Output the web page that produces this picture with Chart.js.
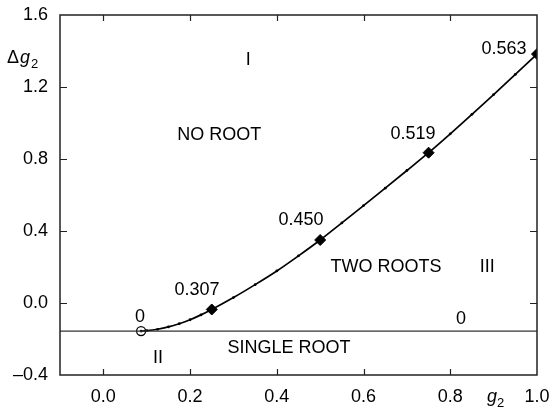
<!DOCTYPE html>
<html>
<head>
<meta charset="utf-8">
<script src="https://cdn.jsdelivr.net/npm/chart.js@4"></script>
<style>
  html, body { margin: 0; padding: 0; background: #fff; }
  #wrap { width: 556px; height: 408px; }
</style>
</head>
<body>
<div id="wrap"><canvas id="phase"></canvas></div>
<script>
/* Root diagram: boundary curve Δg2(g2) with the single-root level */

const FONT = '"Liberation Sans", Arial, sans-serif';
const FONT_SIZE = 18;
const INK = "#000";
const FRAME = "#222";

// boundary curve samples
const curveG2 = [0.087, 0.10, 0.125, 0.15, 0.175, 0.20, 0.225, 0.25, 0.30, 0.35, 0.40, 0.45,
                 0.50, 0.55, 0.60, 0.65, 0.70, 0.75, 0.80, 0.85, 0.90, 0.95, 1.00];
const curveDelta = [-0.156, -0.154, -0.146, -0.133, -0.115, -0.093, -0.066, -0.036, 0.030, 0.102, 0.178, 0.262,
                    0.350, 0.445, 0.541, 0.638, 0.736, 0.835, 0.940, 1.048, 1.158, 1.270, 1.383];

// marked points on the curve
const markerG2 = [0.25, 0.50, 0.75, 1.00];
const markerDelta = [-0.036, 0.350, 0.835, 1.383];
const markerText = ["0.307", "0.450", "0.519", "0.563"];

// starting point of the curve (open circle)
const rootG2 = [0.087];
const rootDelta = [-0.156];

// single-root level across the whole range
const levelG2 = [-0.1, 1.0];
const levelDelta = [-0.156, -0.156];

// axes
const xTickValues = [0.0, 0.2, 0.4, 0.6, 0.8, 1.0];
const yTickValues = [-0.4, 0.0, 0.4, 0.8, 1.2, 1.6];
const xTickMarks = [0.0, 0.2, 0.4, 0.6, 0.8];
const yTickMarks = [0.0, 0.4, 0.8, 1.2];

// region labels: [text, g2, Δg2]
const regionLabels = [
  ["I", 0.334, 1.35],
  ["NO ROOT", 0.267, 0.933],
  ["TWO ROOTS", 0.652, 0.200],
  ["III", 0.885, 0.200],
  ["0", 0.825, -0.089],
  ["SINGLE ROOT", 0.428, -0.250],
  ["II", 0.126, -0.306],
  ["0", 0.0845, -0.078]
];
// value labels next to the marked points: [g2, Δg2]
const markerLabelPos = [[0.216, 0.072], [0.456, 0.461], [0.714, 0.939], [0.924, 1.411]];

const toXY = (xs, ys) => xs.map((x, i) => ({ x, y: ys[i] }));

function fmtTick(v) {
  const s = Math.abs(v).toFixed(1);
  return v < 0 ? "\u2013" + s : s;
}

// frame, inward tick marks, annotations and axis titles
const decorPlugin = {
  id: "decor",
  afterDatasetsDraw(chart) {
    const { ctx, chartArea: a, scales: { x, y } } = chart;
    ctx.save();
    ctx.strokeStyle = FRAME;
    ctx.lineWidth = 1.5;
    ctx.strokeRect(a.left, a.top, a.right - a.left, a.bottom - a.top);

    ctx.lineWidth = 1.2;
    ctx.beginPath();
    xTickMarks.forEach((v) => {
      const px = Math.round(x.getPixelForValue(v)) + 0.5;
      ctx.moveTo(px, a.bottom); ctx.lineTo(px, a.bottom - 6);
      ctx.moveTo(px, a.top); ctx.lineTo(px, a.top + 6);
    });
    yTickMarks.forEach((v) => {
      const py = Math.round(y.getPixelForValue(v)) + 0.5;
      ctx.moveTo(a.left, py); ctx.lineTo(a.left + 7, py);
      ctx.moveTo(a.right, py); ctx.lineTo(a.right - 7, py);
    });
    ctx.stroke();

    ctx.fillStyle = INK;
    ctx.font = FONT_SIZE + "px " + FONT;
    ctx.textAlign = "center";
    ctx.textBaseline = "middle";
    regionLabels.forEach(([t, gx, gy]) => {
      ctx.fillText(t, x.getPixelForValue(gx), y.getPixelForValue(gy));
    });
    markerText.forEach((t, i) => {
      const [gx, gy] = markerLabelPos[i];
      ctx.fillText(t, x.getPixelForValue(gx), y.getPixelForValue(gy));
    });

    // axis titles
    ctx.textAlign = "left";
    ctx.textBaseline = "alphabetic";
    ctx.font = FONT_SIZE + "px " + FONT;
    ctx.fillText("\u0394", 7, 63);
    ctx.font = "italic " + FONT_SIZE + "px " + FONT;
    ctx.fillText("g", 20, 63);
    ctx.font = "13px " + FONT;
    ctx.fillText("2", 31, 68);

    ctx.font = "italic " + FONT_SIZE + "px " + FONT;
    ctx.fillText("g", 487, 402);
    ctx.font = "13px " + FONT;
    ctx.fillText("2", 497, 407);
    ctx.restore();
  }
};

new Chart(document.getElementById("phase"), {
  type: "scatter",
  data: {
    datasets: [
      {
        label: "single root",
        data: toXY(levelG2, levelDelta),
        showLine: true,
        borderColor: "#333",
        borderWidth: 1.2,
        pointRadius: 0
      },
      {
        label: "boundary",
        data: toXY(curveG2, curveDelta),
        showLine: true,
        borderColor: INK,
        borderWidth: 1.7,
        cubicInterpolationMode: "monotone",
        pointRadius: 1.4,
        pointBackgroundColor: INK,
        pointBorderWidth: 0
      },
      {
        label: "marked",
        data: toXY(markerG2, markerDelta),
        pointStyle: "rectRot",
        pointRadius: 5.5,
        pointBackgroundColor: INK,
        pointBorderColor: INK,
        pointBorderWidth: 1
      },
      {
        label: "start",
        data: toXY(rootG2, rootDelta),
        pointStyle: "circle",
        pointRadius: 4.5,
        pointBackgroundColor: "rgba(0,0,0,0)",
        pointBorderColor: INK,
        pointBorderWidth: 1.3
      }
    ]
  },
  options: {
    responsive: true,
    maintainAspectRatio: false,
    animation: false,
    events: [],
    layout: { padding: { left: 0, top: 15, right: 19, bottom: 0 } },
    plugins: { legend: { display: false }, tooltip: { enabled: false } },
    scales: {
      x: {
        type: "linear",
        min: -0.1,
        max: 1.0,
        afterBuildTicks: (s) => { s.ticks = xTickValues.map((v) => ({ value: v })); },
        afterFit: (s) => { s.height = 33; s.paddingLeft = 0; s.paddingRight = 0; },
        grid: { display: false, drawTicks: false },
        border: { display: false },
        ticks: {
          padding: 11,
          color: INK,
          font: { family: FONT, size: FONT_SIZE },
          callback: (v) => fmtTick(v)
        }
      },
      y: {
        type: "linear",
        min: -0.4,
        max: 1.6,
        afterBuildTicks: (s) => { s.ticks = yTickValues.map((v) => ({ value: v })); },
        afterFit: (s) => { s.width = 60; s.paddingTop = 0; s.paddingBottom = 0; },
        grid: { display: false, drawTicks: false },
        border: { display: false },
        ticks: {
          padding: 12,
          color: INK,
          font: { family: FONT, size: FONT_SIZE },
          callback: (v) => fmtTick(v)
        }
      }
    }
  },
  plugins: [decorPlugin]
});
</script>
</body>
</html>
